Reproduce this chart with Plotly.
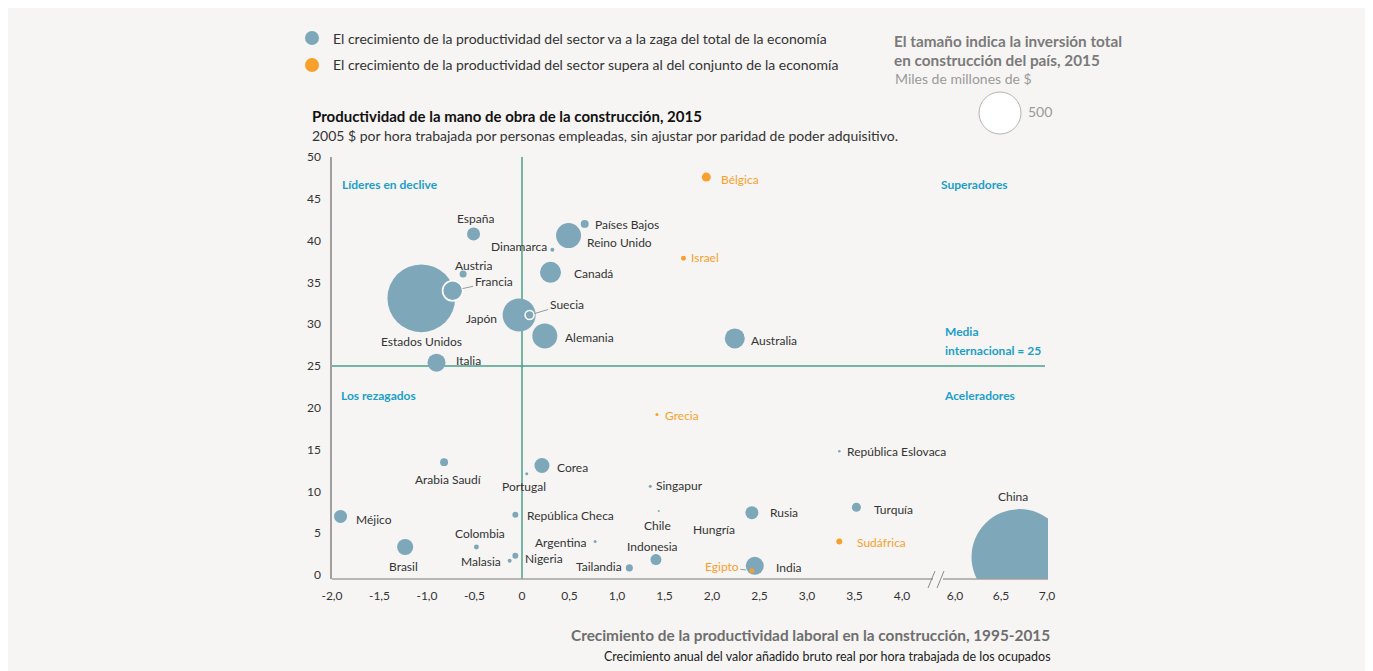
import plotly.graph_objects as go
import math

# ---------------- data ----------------
countries = ["Estados Unidos", "Francia", "Austria", "España", "Japón", "Suecia", "Alemania",
             "Reino Unido", "Canadá", "Dinamarca", "Países Bajos", "Italia", "Australia",
             "Méjico", "Brasil", "Arabia Saudí", "Colombia", "Corea", "Portugal",
             "República Checa", "Nigeria", "Malasia", "Argentina", "Tailandia", "Indonesia",
             "Singapur", "Chile", "República Eslovaca", "Rusia", "Hungría", "Turquía", "India",
             "China",
             "Bélgica", "Israel", "Grecia", "Sudáfrica", "Egipto"]
growth = [-1.06, -0.73, -0.62, -0.51, -0.03, 0.08, 0.24,
          0.49, 0.30, 0.32, 0.66, -0.90, 2.24,
          -1.91, -1.23, -0.82, -0.48, 0.21, 0.05,
          -0.07, -0.07, -0.13, 0.77, 1.13, 1.41,
          1.35, 1.44, 3.34, 2.42, 2.40, 3.52, 2.45,
          6.70,
          1.94, 1.70, 1.42, 3.34, 2.42]
productivity = [33.1, 34.0, 36.0, 40.8, 31.1, 31.1, 28.6,
                40.6, 36.2, 38.9, 42.0, 25.4, 28.3,
                7.0, 3.35, 13.5, 3.35, 13.1, 12.1,
                7.2, 2.3, 1.7, 4.0, 0.85, 1.85,
                10.6, 7.65, 14.8, 7.45, 7.4, 8.1, 1.1,
                2.15,
                47.6, 37.9, 19.2, 4.0, 0.5]
investment = [1300, 115, 14, 48, 310, 23, 177,
              177, 125, 4.5, 18, 92, 113,
              48, 73, 18, 7, 64, 2.6,
              10, 10, 4.5, 2.6, 14, 34,
              2.6, 1.2, 1.8, 48, 3, 23, 92,
              2600,
              23, 7, 2.6, 10, 7]
# True -> sector productivity growth exceeds the total economy (orange)
outpaces = [False] * 33 + [True] * 5

x_tick_values = [-2.0, -1.5, -1.0, -0.5, 0.0, 0.5, 1.0, 1.5, 2.0, 2.5, 3.0, 3.5, 4.0, 6.0, 6.5, 7.0]
x_tick_labels = ["-2,0", "-1,5", "-1,0", "-0,5", "0", "0,5", "1,0", "1,5", "2,0", "2,5", "3,0",
                 "3,5", "4,0", "6,0", "6,5", "7,0"]
y_tick_values = [0, 5, 10, 15, 20, 25, 30, 35, 40, 45, 50]
international_average = 25
legend_size_value = 500

# ---------------- styling ----------------
FONT = "Lato"
BLUE = "#7ea7ba"
ORANGE = "#f9a02c"
TEAL = "#4a9f8b"
QUAD = "#1a9fc9"
AXIS = "#a0a0a0"
BG = "#f6f5f3"

OFF = 8  # page body margin
W, H = 1366 - OFF, 671 - OFF
# plot area in page pixel coordinates
PL, PR, PT, PB = 332, 1048, 157, 579

# broken axis: values >= 6 are moved left
BREAK_U = 4.558
POST_SCALE = 0.9684


def to_u(x):
    return x if x <= 4.5 else BREAK_U + (x - 6.0) * POST_SCALE


X_RANGE = [-2.0, -2.0 + (PR - PL) / 95.0]
Y_RANGE = [-0.48, 50]


def pxx(px):
    return (px - PL) / (PR - PL)


def pxy(py):
    return (PB - py) / (PB - PT)


def diam(v):
    return max(2.0, 42.0 * math.sqrt(v / legend_size_value))


# label offsets in pixels (dx right, dy down) and anchor
label_pos = {
    "Estados Unidos": (0, 43, "center"), "Austria": (10, -9, "center"),
    "España": (2, -15, "center"), "Japón": (-20, 3, "right"), "Alemania": (18, 2, "left"),
    "Reino Unido": (16, 7, "left"), "Países Bajos": (8, 1, "left"), "Dinamarca": (-3, -3, "right"),
    "Canadá": (21, 1, "left"), "Italia": (17, -2, "left"), "Australia": (14, 2, "left"),
    "Méjico": (13, 3, "left"), "Brasil": (-2, 20, "center"), "Arabia Saudí": (4, 17, "center"),
    "Colombia": (4, -13, "center"), "Corea": (13, 2, "left"), "Portugal": (-3, 13, "center"),
    "República Checa": (10, 1, "left"), "Nigeria": (8, 3, "left"), "Malasia": (-7, 1, "right"),
    "Argentina": (-6, 1, "right"), "Tailandia": (-5, -1, "right"), "Indonesia": (-3, -13, "center"),
    "Singapur": (4, -1, "left"), "Chile": (-1, 14, "center"), "República Eslovaca": (6, 0, "left"),
    "Rusia": (16, 0, "left"), "Hungría": (-36, 16, "center"), "Turquía": (16, 2, "left"),
    "India": (19, 2, "left"), "China": (-6, -61, "center"), "Bélgica": (13, 2, "left"),
    "Israel": (5, -1, "left"), "Grecia": (6, 1, "left"), "Sudáfrica": (16, 1, "left"),
}
# labels connected to their bubble with a leader line: (ax, ay, standoff)
leader_pos = {"Francia": (41, -9, 10), "Suecia": (37, -11, 5), "Egipto": (-30, -4, 6)}
outlined = {"Francia", "Suecia"}

fig = go.Figure()

for flag, color in [(False, BLUE), (True, ORANGE)]:
    idx = [i for i in range(len(countries)) if outpaces[i] == flag]
    idx.sort(key=lambda i: -investment[i])
    fig.add_trace(go.Scatter(
        x=[to_u(growth[i]) for i in idx],
        y=[productivity[i] for i in idx],
        mode="markers",
        text=[countries[i] for i in idx],
        hoverinfo="text",
        marker=dict(
            size=[diam(investment[i]) for i in idx],
            sizemode="diameter",
            color=color,
            opacity=1,
            line=dict(color=["white" if countries[i] in outlined else color for i in idx],
                      width=[1.6 if countries[i] in outlined else 0 for i in idx]),
        ),
        showlegend=False,
        cliponaxis=True,
    ))

annotations = []
for i, name in enumerate(countries):
    col = ORANGE if outpaces[i] else "#333333"
    if name in label_pos:
        dx, dy, anchor = label_pos[name]
        annotations.append(dict(
            x=to_u(growth[i]), y=productivity[i], xref="x", yref="y", text=name,
            showarrow=False, xanchor=anchor, yanchor="middle", xshift=dx, yshift=-dy,
            font=dict(family=FONT, size=12, color=col)))
    elif name in leader_pos:
        ax, ay, so = leader_pos[name]
        annotations.append(dict(
            x=to_u(growth[i]), y=productivity[i], xref="x", yref="y", text=name,
            showarrow=True, arrowhead=0, arrowwidth=1, arrowcolor="#9a9a9a",
            ax=ax, ay=ay, standoff=so,
            font=dict(family=FONT, size=12, color=col)))


def ptext(px, py, text, size, color, bold=False, anchor="left"):
    t = f"<b>{text}</b>" if bold else text
    annotations.append(dict(
        x=pxx(px), y=pxy(py), xref="paper", yref="paper", text=t, showarrow=False,
        xanchor=anchor, yanchor="middle", font=dict(family=FONT, size=size, color=color)))


# top legend
ptext(331, 38, "El crecimiento de la productividad del sector va a la zaga del total de la economía", 14, "#333333")
ptext(331, 65, "El crecimiento de la productividad del sector supera al del conjunto de la economía", 14, "#333333")
# chart title
ptext(310, 116, "Productividad de la mano de obra de la construcción, 2015", 15, "#111111", bold=True)
ptext(310, 135, "2005 $ por hora trabajada por personas empleadas, sin ajustar por paridad de poder adquisitivo.", 14, "#333333")
# size legend
ptext(892, 41, "El tamaño indica la inversión total", 15.3, "#7a7a7a", bold=True)
ptext(892, 60, "en construcción del país, 2015", 15.3, "#7a7a7a", bold=True)
ptext(893, 79, "Miles de millones de $", 14, "#9a9a9a")
ptext(1026, 112, str(legend_size_value), 14, "#9a9a9a")
# quadrant labels
ptext(340, 184, "Líderes en declive", 12, QUAD, bold=True)
ptext(939, 184, "Superadores", 12, QUAD, bold=True)
ptext(943, 331, "Media", 12, QUAD, bold=True)
ptext(943, 350, "internacional = 25", 12, QUAD, bold=True)
ptext(339, 395, "Los rezagados", 12, QUAD, bold=True)
ptext(942, 395, "Aceleradores", 12, QUAD, bold=True)
# x-axis titles
ptext(1052, 635, "Crecimiento de la productividad laboral en la construcción, 1995-2015", 15.35, "#6e6e6e", bold=True, anchor="right")
ptext(1053, 656, "Crecimiento anual del valor añadido bruto real por hora trabajada de los ocupados", 12.5, "#222222", anchor="right")

legend_size_d = diam(legend_size_value)
shapes = [
    # legend dots
    dict(type="circle", xref="paper", yref="paper", x0=pxx(305), x1=pxx(319), y0=pxy(45), y1=pxy(31),
         fillcolor=BLUE, line=dict(width=0)),
    dict(type="circle", xref="paper", yref="paper", x0=pxx(305), x1=pxx(319), y0=pxy(72), y1=pxy(58),
         fillcolor=ORANGE, line=dict(width=0)),
    # size legend circle
    dict(type="circle", xref="paper", yref="paper",
         x0=pxx(1000 - legend_size_d / 2), x1=pxx(1000 + legend_size_d / 2),
         y0=pxy(113 + legend_size_d / 2), y1=pxy(113 - legend_size_d / 2),
         fillcolor="white", line=dict(color="#b5b5b5", width=1)),
    # reference lines
    dict(type="line", xref="x", yref="paper", x0=0, x1=0, y0=0, y1=1,
         line=dict(color=TEAL, width=1.5), layer="below"),
    dict(type="line", xref="paper", yref="y", x0=0, x1=pxx(1045), y0=international_average,
         y1=international_average, line=dict(color=TEAL, width=1.5), layer="below"),
    # broken x axis
    dict(type="line", xref="paper", yref="paper", x0=0, x1=pxx(933), y0=0, y1=0,
         line=dict(color=AXIS, width=1.5)),
    dict(type="line", xref="paper", yref="paper", x0=pxx(943), x1=1, y0=0, y1=0,
         line=dict(color=AXIS, width=1.5)),
    dict(type="line", xref="paper", yref="paper", x0=pxx(928), x1=pxx(935), y0=pxy(588), y1=pxy(571),
         line=dict(color="#8a8a8a", width=1)),
    dict(type="line", xref="paper", yref="paper", x0=pxx(937), x1=pxx(944), y0=pxy(588), y1=pxy(571),
         line=dict(color="#8a8a8a", width=1)),
]

fig.update_layout(
    width=W, height=H, autosize=False,
    margin=dict(l=PL - OFF, r=(W + OFF) - PR, t=PT - OFF, b=(H + OFF) - PB, pad=0),
    paper_bgcolor=BG, plot_bgcolor="rgba(0,0,0,0)",
    font=dict(family=FONT, size=12, color="#333333"),
    shapes=shapes, annotations=annotations,
    xaxis=dict(range=X_RANGE, showgrid=False, zeroline=False, showline=False,
               tickvals=[to_u(v) for v in x_tick_values], ticktext=x_tick_labels,
               ticks="outside", ticklen=6, tickcolor="rgba(0,0,0,0)",
               tickfont=dict(family=FONT, size=12, color="#333333"), fixedrange=True),
    yaxis=dict(range=Y_RANGE, showgrid=False, zeroline=False, showline=True,
               linecolor=AXIS, linewidth=1.5, tickvals=y_tick_values,
               ticks="outside", ticklen=7, tickcolor="rgba(0,0,0,0)",
               tickfont=dict(family=FONT, size=12, color="#333333"), fixedrange=True),
    hovermode="closest",
)

fig.write_html("out.html")
